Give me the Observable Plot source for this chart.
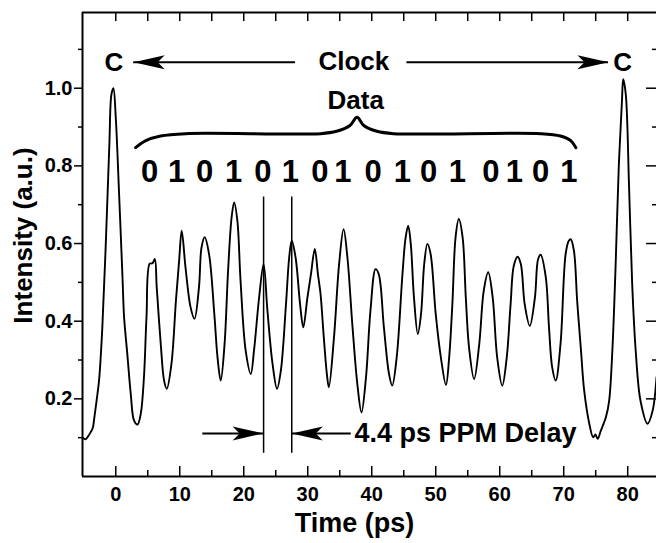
<!DOCTYPE html>
<html>
<head>
<meta charset="utf-8">
<script src="https://cdn.jsdelivr.net/npm/d3@7"></script>
<script src="https://cdn.jsdelivr.net/npm/@observablehq/plot@0.6"></script>
<style>
  html, body { margin: 0; padding: 0; background: #fff; }
  #chart { width: 656px; height: 543px; }
</style>
</head>
<body>
<div id="chart"></div>
<script>
// ---- data ----
const time = [-5.15,-4.7,-4.3,-3.9,-3.6,-3.3,-3.0,-2.6,-2.1,-1.56,-1.0,-0.68,-0.37,0.0,0.52,1.05,1.3,1.8,2.34,2.86,3.4,3.9,4.4,4.8,5.3,5.73,6.1,6.4,7.03,7.55,7.97,8.7,9.4,9.9,10.3,10.9,11.7,12.3,13.0,13.4,13.9,14.6,15.4,15.9,16.4,17.0,17.55,18.1,18.5,19.0,19.5,20.3,21.1,21.6,22.4,23.1,23.7,24.5,25.2,25.8,26.6,27.1,27.5,28.1,28.8,29.3,29.95,30.5,31.1,31.6,32.0,32.5,33.0,33.3,34.1,34.9,35.6,36.2,37.0,37.8,38.4,39.1,39.8,40.6,41.1,41.9,42.7,43.2,43.9,44.8,45.3,45.7,46.1,46.6,47.2,47.7,48.2,48.7,49.2,50.0,50.8,51.6,52.1,52.6,53.1,53.6,54.2,54.7,55.2,56.0,56.8,57.5,58.2,58.9,59.6,60.4,61.1,61.7,62.2,62.8,63.3,63.9,64.7,65.5,66.0,66.4,67.2,67.7,68.2,68.75,69.5,70.3,70.8,71.1,71.6,72.1,72.7,73.2,74.0,74.6,74.95,75.3,75.8,76.6,77.1,77.6,78.1,78.6,79.1,79.3,79.7,80.2,80.7,81.25,82.0,83.1,83.9,84.5];
const intensity = [0.100,0.096,0.104,0.115,0.125,0.158,0.195,0.250,0.384,0.600,0.856,0.984,1.000,0.924,0.727,0.513,0.410,0.316,0.213,0.144,0.134,0.161,0.255,0.410,0.548,0.549,0.560,0.487,0.341,0.247,0.226,0.290,0.453,0.556,0.633,0.538,0.435,0.406,0.487,0.590,0.616,0.570,0.418,0.307,0.247,0.341,0.530,0.667,0.706,0.659,0.504,0.324,0.264,0.324,0.461,0.547,0.427,0.290,0.226,0.273,0.444,0.564,0.607,0.564,0.444,0.384,0.461,0.521,0.586,0.520,0.470,0.360,0.262,0.230,0.358,0.547,0.637,0.564,0.384,0.230,0.165,0.255,0.427,0.534,0.521,0.384,0.264,0.234,0.307,0.521,0.616,0.646,0.599,0.461,0.367,0.418,0.547,0.599,0.573,0.418,0.307,0.236,0.307,0.444,0.616,0.663,0.616,0.461,0.333,0.251,0.341,0.478,0.526,0.461,0.307,0.234,0.307,0.444,0.543,0.566,0.547,0.444,0.388,0.461,0.560,0.571,0.513,0.384,0.281,0.247,0.341,0.573,0.607,0.611,0.581,0.453,0.324,0.221,0.136,0.101,0.108,0.097,0.118,0.153,0.195,0.324,0.538,0.796,0.967,1.023,0.984,0.753,0.496,0.324,0.195,0.136,0.170,0.255];

const xTicksMajor = [0, 10, 20, 30, 40, 50, 60, 70, 80];
const xTicksMinor = [5, 15, 25, 35, 45, 55, 65, 75];
const yTicksMajor = [0.2, 0.4, 0.6, 0.8, 1.0];
const yTicksMinor = [0.1, 0.3, 0.5, 0.7, 0.9, 1.1];

const bits = ["0","1","0","1","0","1","0","1","0","1","0","1","0","1","0","1"];
const bitTimes = [5.3, 9.5, 13.9, 18.4, 23.0, 27.3, 31.9, 35.5, 40.2, 44.8, 48.9, 53.4, 58.6, 62.3, 66.4, 70.8];

const clockMarks = [-0.3, 79.2];          // times of the clock pulses labelled "C"
const delayLines = [23.1, 27.5];          // 4.4 ps PPM delay markers
const braceT = [3.1, 4.7, 7.0, 10.9, 32.0, 34.5, 36.6, 37.7, 38.75, 40.8, 43.4, 66.4, 69.5, 71.1, 71.9];
const braceV = [0.847, 0.865, 0.877, 0.883, 0.883, 0.889, 0.904, 0.925, 0.904, 0.889, 0.883, 0.883, 0.877, 0.865, 0.847];

const xDomain = [-5.2, 84.5];
const yDomain = [0, 1.195];

// ---- derived tables ----
const curve = time.map((t, i) => ({t, v: intensity[i]}));
const bitData = bits.map((b, i) => ({t: bitTimes[i], b}));
const brace = braceT.map((t, i) => ({t, v: braceV[i]}));
const arrowsClock = [
  {t1: 28.1, t2: 2.8, v: 1.067},
  {t1: 45.5, t2: 77.0, v: 1.067}
];
const arrowsDelay = [
  {t1: 13.6, t2: delayLines[0], v: 0.111},
  {t1: 36.8, t2: delayLines[1], v: 0.111}
];

const dartRight = {draw(ctx) { ctx.moveTo(0, 0); ctx.lineTo(-31, -7); ctx.lineTo(-24, 0); ctx.lineTo(-31, 7); ctx.closePath(); }};
const dartLeft  = {draw(ctx) { ctx.moveTo(0, 0); ctx.lineTo(31, -7); ctx.lineTo(24, 0); ctx.lineTo(31, 7); ctx.closePath(); }};

const W = 656, H = 543, mL = 82, mR = 0, mT = 12, mB = 67;
const fw = W - mL - mR, fh = H - mT - mB;
const bold = {fontWeight: "bold"};

const chart = Plot.plot({
  width: W,
  height: H,
  marginLeft: mL,
  marginRight: mR,
  marginTop: mT,
  marginBottom: mB,
  style: {fontFamily: "'Liberation Sans', Arial, Helvetica, sans-serif", color: "black", background: "white", overflow: "visible"},
  x: {domain: xDomain},
  y: {domain: yDomain},
  marks: [
    // frame (top, left, bottom)
    Plot.ruleY([yDomain[1]], {stroke: "black", strokeWidth: 2}),
    Plot.ruleY([yDomain[0]], {stroke: "black", strokeWidth: 2}),
    Plot.ruleX([xDomain[0]], {stroke: "black", strokeWidth: 2}),
    // bottom ticks (inward)
    Plot.ruleX(xTicksMajor, {insetTop: fh - 10, strokeWidth: 1.5}),
    Plot.ruleX(xTicksMinor, {insetTop: fh - 6, strokeWidth: 1.5}),
    // top ticks (inward)
    Plot.ruleX(xTicksMajor.concat(xTicksMinor), {insetBottom: fh - 9, strokeWidth: 1.5}),
    // right ticks (inward)
    Plot.ruleY(yTicksMajor, {insetLeft: fw - 10, strokeWidth: 1.5}),
    Plot.ruleY(yTicksMinor, {insetLeft: fw - 4, strokeWidth: 1.5}),
    // axes
    Plot.axisX(xTicksMajor, {tickSize: 0, tickPadding: 10, fontSize: 20, ...bold, label: null}),
    Plot.axisY(yTicksMajor, {tickSize: 8, tickPadding: 2, fontSize: 20, ...bold, strokeWidth: 1.5, tickFormat: d3.format(".1f"), label: null}),
    Plot.axisY(yTicksMinor, {tickSize: 4, strokeWidth: 1.5, tickFormat: () => "", label: null}),
    Plot.text(["Time (ps)"], {frameAnchor: "bottom", lineAnchor: "middle", textAnchor: "middle", dx: -15, dy: 47, fontSize: 27, ...bold}),
    Plot.text(["Intensity (a.u.)"], {frameAnchor: "left", lineAnchor: "middle", textAnchor: "middle", rotate: -90, dx: -59, dy: -9, fontSize: 26, ...bold}),
    // signal trace
    Plot.line(curve, {x: "t", y: "v", stroke: "black", strokeWidth: 1.9, curve: "catmull-rom"}),
    // clock annotation
    Plot.text(clockMarks, {x: d => d, y: 1.067, text: () => "C", fontSize: 26, ...bold}),
    Plot.text(["Clock"], {x: 37.2, y: 1.069, fontSize: 26, ...bold}),
    Plot.ruleY(arrowsClock, {x1: "t1", x2: "t2", y: "v", strokeWidth: 2}),
    Plot.dot(arrowsClock.slice(0, 1), {x: "t2", y: "v", symbol: dartLeft, fill: "black", stroke: "none"}),
    Plot.dot(arrowsClock.slice(1), {x: "t2", y: "v", symbol: dartRight, fill: "black", stroke: "none"}),
    // data annotation
    Plot.text(["Data"], {x: 37.5, y: 0.968, fontSize: 26, ...bold}),
    Plot.line(brace, {x: "t", y: "v", stroke: "black", strokeWidth: 3, curve: "catmull-rom"}),
    Plot.text(bitData, {x: "t", y: 0.784, text: "b", fontSize: 31, ...bold}),
    // PPM delay annotation
    Plot.ruleX(delayLines, {y1: 0.06, y2: 0.72, strokeWidth: 1.5}),
    Plot.ruleY(arrowsDelay, {x1: "t1", x2: "t2", y: "v", strokeWidth: 2}),
    Plot.dot(arrowsDelay.slice(0, 1), {x: "t2", y: "v", symbol: dartRight, fill: "black", stroke: "none"}),
    Plot.dot(arrowsDelay.slice(1), {x: "t2", y: "v", symbol: dartLeft, fill: "black", stroke: "none"}),
    Plot.text(["4.4 ps PPM Delay"], {x: 37.3, y: 0.111, textAnchor: "start", fontSize: 27, ...bold})
  ]
});
document.getElementById("chart").appendChild(chart);
</script>
</body>
</html>
